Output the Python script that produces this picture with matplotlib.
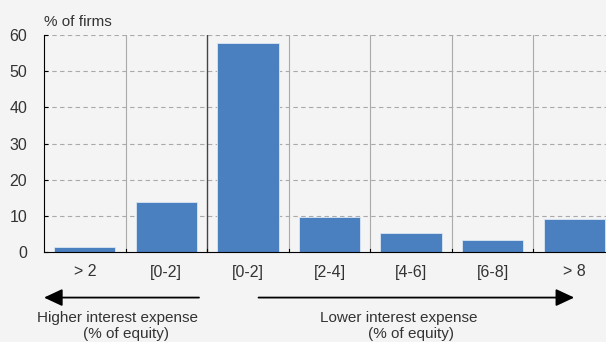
import numpy as np
import matplotlib.pyplot as plt

categories = ['> 2', '[0-2]', '[0-2]', '[2-4]', '[4-6]', '[6-8]', '> 8']
values = [1.3, 13.8, 57.8, 9.8, 5.2, 3.3, 9.0]
yticks = [0, 10, 20, 30, 40, 50, 60]

plt.rcParams['font.family'] = ['Liberation Sans', 'DejaVu Sans']
bg = '#f4f4f4'
txt = '#333333'

fig = plt.figure(figsize=(6.06, 3.42), dpi=100, facecolor=bg)
ax = fig.add_axes([44 / 606, 90 / 342, 571 / 606, 217 / 342], facecolor=bg)

x = np.arange(len(categories))
ax.bar(x, values, width=0.75, color='#4a7fc0', edgecolor='#dce6f2', linewidth=0.6, zorder=3)

ax.set_xlim(-0.5, len(categories) - 0.5)
ax.set_ylim(0, 60)
ax.set_yticks(yticks)
ax.set_yticklabels([str(v) for v in yticks], fontsize=11.5, color=txt)
ax.set_xticks(x)
ax.set_xticklabels(categories, fontsize=11.5, color=txt)
ax.tick_params(axis='x', length=0, pad=9)
ax.tick_params(axis='y', direction='in', length=3, width=0.8, pad=12)

# horizontal dashed grid
for v in yticks[1:]:
    ax.axhline(v, color='#aaaaaa', linestyle=(0, (4, 3)), linewidth=0.8, zorder=1)

# vertical separators between categories
for b in np.arange(0.5, len(categories) - 0.5, 1):
    if b == 1.5:
        ax.axvline(b, color='#444444', linewidth=1.0, zorder=2)
    else:
        ax.axvline(b, color='#aaaaaa', linewidth=0.8, zorder=2)
    ax.plot([b, b], [0, 0.7], color='black', linewidth=0.8, zorder=4, clip_on=False)

for s in ['top', 'right']:
    ax.spines[s].set_visible(False)
ax.spines['left'].set_color('black')
ax.spines['bottom'].set_color('black')
ax.spines['left'].set_zorder(5)
ax.spines['bottom'].set_zorder(5)

ax.text(-0.5, 61.6, '% of firms', fontsize=11, color=txt, ha='left', va='bottom')

# arrows below axis
arrow_y = -12.6
style = '-|>,head_length=0.75,head_width=0.35'
ax.annotate('', xy=(-0.5, arrow_y), xytext=(1.4, arrow_y), annotation_clip=False,
            arrowprops=dict(arrowstyle=style, color='black', lw=1.3, mutation_scale=15,
                            shrinkA=0, shrinkB=0))
ax.annotate('', xy=(6.0, arrow_y), xytext=(2.13, arrow_y), annotation_clip=False,
            arrowprops=dict(arrowstyle=style, color='black', lw=1.3, mutation_scale=15,
                            shrinkA=0, shrinkB=0))

ax.text(0.40, -18.3, 'Higher interest expense', ha='center', va='center', fontsize=11, color=txt)
ax.text(0.51, -22.8, '(% of equity)', ha='center', va='center', fontsize=11, color=txt)
ax.text(3.85, -18.3, 'Lower interest expense', ha='center', va='center', fontsize=11, color=txt)
ax.text(4.0, -22.8, '(% of equity)', ha='center', va='center', fontsize=11, color=txt)

fig.savefig('out.png', dpi=100, facecolor=bg)
